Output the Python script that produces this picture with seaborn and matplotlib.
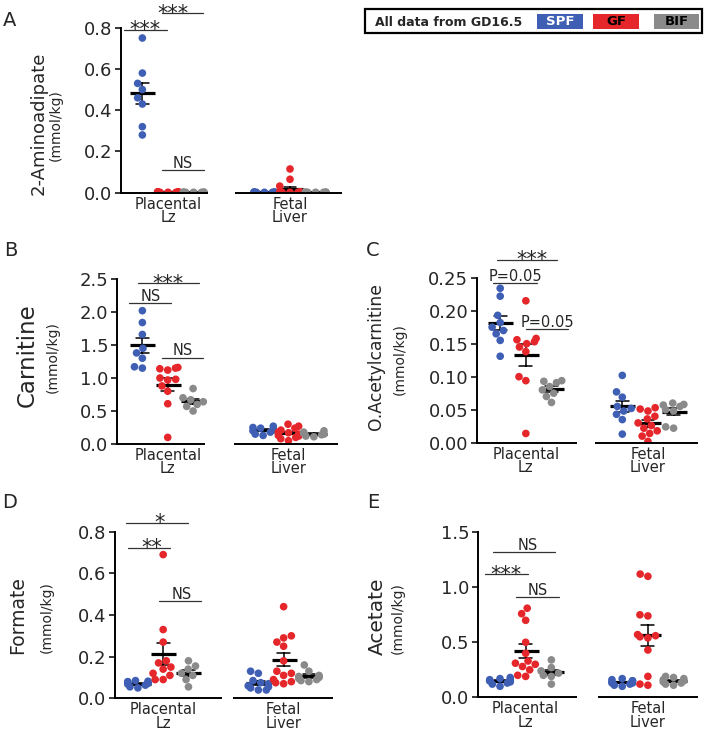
import warnings

import matplotlib
matplotlib.use("Agg")
import matplotlib.pyplot as plt
import numpy as np
import pandas as pd
import seaborn as sns
from matplotlib.patches import Rectangle
from matplotlib.ticker import FormatStrFormatter

warnings.filterwarnings("ignore")

tissues = ["Placental\nLz", "Fetal\nLiver"]
groups = ["SPF", "GF", "BIF"]
group_colors = {"SPF": "#3F5FB5", "GF": "#E5262B", "BIF": "#8A8A8A"}

# A - 2-Aminoadipate (mmol/kg)
aad_lz_spf = [0.75, 0.58, 0.53, 0.50, 0.46, 0.43, 0.32, 0.28]
aad_lz_gf = [0.004, 0.003, 0.003, 0.002, 0.004, 0.003, 0.002, 0.003, 0.004, 0.002, 0.003]
aad_lz_bif = [0.002, 0.003, 0.002, 0.002, 0.003, 0.002, 0.002]
aad_fl_spf = [0.002, 0.003, 0.002, 0.003, 0.002, 0.002, 0.003, 0.002, 0.002]
aad_fl_gf = [0.115, 0.065, 0.032, 0.004, 0.003, 0.002, 0.003, 0.002, 0.002, 0.003, 0.002, 0.002]
aad_fl_bif = [0.002, 0.003, 0.002, 0.002, 0.003, 0.002, 0.002]

# B - Carnitine
car_lz_spf = [2.02, 1.84, 1.66, 1.45, 1.38, 1.30, 1.17, 1.15]
car_lz_gf = [1.16, 1.15, 1.14, 1.12, 0.98, 1.00, 0.97, 0.88, 0.80, 0.61, 0.10]
car_lz_bif = [0.84, 0.70, 0.67, 0.64, 0.60, 0.57, 0.50]
car_fl_spf = [0.27, 0.25, 0.24, 0.22, 0.21, 0.20, 0.18, 0.15, 0.13]
car_fl_gf = [0.30, 0.27, 0.24, 0.21, 0.18, 0.17, 0.15, 0.13, 0.12, 0.10, 0.08, 0.05]
car_fl_bif = [0.20, 0.18, 0.16, 0.15, 0.14, 0.12, 0.11]

# C - O.Acetylcarnitine
oac_lz_spf = [0.234, 0.222, 0.193, 0.182, 0.175, 0.170, 0.165, 0.155, 0.131]
oac_lz_gf = [0.215, 0.158, 0.156, 0.153, 0.150, 0.145, 0.138, 0.100, 0.094, 0.014]
oac_lz_bif = [0.094, 0.093, 0.091, 0.085, 0.080, 0.075, 0.070, 0.061]
oac_fl_spf = [0.102, 0.077, 0.069, 0.055, 0.052, 0.048, 0.043, 0.035, 0.013]
oac_fl_gf = [0.053, 0.051, 0.048, 0.040, 0.036, 0.030, 0.026, 0.022, 0.018, 0.014, 0.010, 0.002]
oac_fl_bif = [0.060, 0.058, 0.057, 0.055, 0.050, 0.048, 0.024, 0.022]

# D - Formate
for_lz_spf = [0.085, 0.082, 0.080, 0.078, 0.075, 0.072, 0.068, 0.063, 0.055, 0.050]
for_lz_gf = [0.69, 0.33, 0.27, 0.18, 0.17, 0.15, 0.14, 0.12, 0.11, 0.09, 0.09]
for_lz_bif = [0.18, 0.155, 0.14, 0.12, 0.11, 0.09, 0.055]
for_fl_spf = [0.13, 0.12, 0.085, 0.075, 0.07, 0.06, 0.055, 0.05, 0.04, 0.04]
for_fl_gf = [0.44, 0.30, 0.29, 0.27, 0.25, 0.18, 0.13, 0.12, 0.11, 0.09, 0.08, 0.075, 0.07]
for_fl_bif = [0.16, 0.13, 0.11, 0.105, 0.10, 0.095, 0.09, 0.085, 0.08]

# E - Acetate
ace_lz_spf = [0.18, 0.17, 0.16, 0.16, 0.15, 0.15, 0.14, 0.13, 0.12, 0.10]
ace_lz_gf = [0.81, 0.76, 0.70, 0.50, 0.40, 0.33, 0.31, 0.30, 0.28, 0.25, 0.20, 0.19]
ace_lz_bif = [0.34, 0.27, 0.24, 0.22, 0.20, 0.19, 0.12]
ace_fl_spf = [0.17, 0.16, 0.15, 0.15, 0.14, 0.13, 0.13, 0.12, 0.11, 0.10]
ace_fl_gf = [1.12, 1.10, 0.75, 0.74, 0.57, 0.56, 0.55, 0.54, 0.43, 0.19, 0.12, 0.11]
ace_fl_bif = [0.19, 0.18, 0.17, 0.16, 0.15, 0.14, 0.13, 0.12, 0.11]

# layout: tissue centres and group offsets on the x axis
tissue_pos = [0, 1]
group_shift = [-0.21, 0.0, 0.21]

W, H = 708, 732

sns.set_theme(style="ticks")
plt.rcParams["font.family"] = ["DejaVu Sans"]
plt.rcParams["axes.linewidth"] = 1.4


def build_frame(*series):
    rows = []
    k = 0
    for ti in range(len(tissues)):
        for gi, group in enumerate(groups):
            for v in series[k]:
                rows.append({"pos": tissue_pos[ti] + group_shift[gi], "group": group, "value": v})
            k += 1
    return pd.DataFrame(rows)


def px(x, y):
    return x / W, 1 - y / H


def fig_rect(left, right, top, bottom):
    return [left / W, 1 - bottom / H, (right - left) / W, (bottom - top) / H]


fig = plt.figure(figsize=(W / 100, H / 100), dpi=100)


def panel(rect, df, ylim, ystep, fmt, xlim, gap, letter, letter_xy,
          ylabel, ylabel_x, ylabel_size, unit_x, label_y, sig):
    ax = fig.add_axes(fig_rect(*rect))
    sns.swarmplot(data=df, x="pos", y="value", hue="group", hue_order=groups,
                  palette=group_colors, native_scale=True, size=5.5, linewidth=0,
                  legend=False, ax=ax)
    sns.pointplot(data=df, x="pos", y="value", hue="group", hue_order=groups,
                  palette={g: "black" for g in groups}, native_scale=True,
                  errorbar="se", capsize=0.5, markers="_", linestyles="none",
                  markersize=18, markeredgewidth=2.3, err_kws={"linewidth": 1.1},
                  legend=False, ax=ax)
    ax.set_xlim(*xlim)
    ax.set_ylim(*ylim)
    ax.set_yticks(np.arange(ylim[0], ylim[1] + ystep / 2, ystep))
    ax.yaxis.set_major_formatter(FormatStrFormatter(fmt))
    ax.set_xticks(tissue_pos, tissues)
    for lbl in ax.get_xticklabels():
        lbl.set_linespacing(0.85)
    ax.set_xlabel("")
    ax.set_ylabel("")
    ax.tick_params(axis="y", length=4.3, width=1.1, pad=2, labelsize=13, color="black")
    ax.tick_params(axis="x", length=0, pad=3, labelsize=10.5)
    sns.despine(ax=ax)
    ax.spines["bottom"].set_visible(False)
    ax.spines["left"].set_color("black")
    # broken x axis, one segment per tissue
    ax.plot([xlim[0], gap[0]], [ylim[0], ylim[0]], color="black", lw=1.4,
            clip_on=False, solid_capstyle="butt", zorder=5)
    ax.plot([gap[1], xlim[1]], [ylim[0], ylim[0]], color="black", lw=1.4,
            clip_on=False, solid_capstyle="butt", zorder=5)
    # significance bars
    for x1, x2, y, txt, tx in sig:
        ax.plot([x1, x2], [y, y], color="#333333", lw=0.9, clip_on=False)
        star = txt.startswith("*")
        ax.annotate(txt, (tx, y), xytext=(0, -4.5 if star else 1.5),
                    textcoords="offset points", ha="center", va="baseline",
                    fontsize=15 if star else 10.5, annotation_clip=False)
    fig.text(*px(*letter_xy), letter, fontsize=14, ha="center", va="center")
    fig.text(*px(ylabel_x, label_y), ylabel, rotation=90, fontsize=ylabel_size,
             ha="center", va="center")
    fig.text(*px(unit_x, label_y + 2), "(mmol/kg)", rotation=90, fontsize=10,
             ha="center", va="center")
    return ax


panel((121, 342, 27.7, 192.7),
      build_frame(aad_lz_spf, aad_lz_gf, aad_lz_bif, aad_fl_spf, aad_fl_gf, aad_fl_bif),
      (0, 0.8), 0.2, "%.1f", (-0.385, 1.426), (0.33, 0.55), "A", (10, 20),
      "2-Aminoadipate", 39, 13, 56, 123,
      [(-0.358, -0.011, 0.789, "***", -0.189),
       (-0.047, 0.289, 0.870, "***", 0.043),
       (-0.047, 0.295, 0.110, "NS", 0.123)])

panel((117, 338, 279, 444),
      build_frame(car_lz_spf, car_lz_gf, car_lz_bif, car_fl_spf, car_fl_gf, car_fl_bif),
      (0, 2.5), 0.5, "%.1f", (-0.42, 1.41), (0.31, 0.55), "B", (11, 251),
      "Carnitine", 27, 16.5, 53, 355,
      [(-0.245, 0.259, 2.435, "***", 0.0),
       (-0.32, 0.03, 2.13, "NS", -0.14),
       (-0.05, 0.29, 1.31, "NS", 0.127)])

panel((477, 698, 277.7, 442.7),
      build_frame(oac_lz_spf, oac_lz_gf, oac_lz_bif, oac_fl_spf, oac_fl_gf, oac_fl_bif),
      (0, 0.25), 0.05, "%.2f", (-0.40, 1.41), (0.42, 0.57), "C", (373, 250),
      "O.Acetylcarnitine", 376, 12.3, 400, 357,
      [(-0.24, 0.257, 0.2768, "***", 0.047),
       (-0.27, 0.088, 0.2415, "P=0.05", -0.085),
       (0.005, 0.348, 0.172, "P=0.05", 0.175)])

panel((115, 333, 531.7, 698.3),
      build_frame(for_lz_spf, for_lz_gf, for_lz_bif, for_fl_spf, for_fl_gf, for_fl_bif),
      (0, 0.8), 0.2, "%.1f", (-0.40, 1.41), (0.49, 0.58), "D", (10, 503),
      "Formate", 18, 13.5, 47, 615,
      [(-0.31, 0.207, 0.843, "*", -0.027),
       (-0.295, 0.055, 0.723, "**", -0.096),
       (-0.036, 0.318, 0.469, "NS", 0.152)])

panel((478, 698, 532.3, 697.3),
      build_frame(ace_lz_spf, ace_lz_gf, ace_lz_bif, ace_fl_spf, ace_fl_gf, ace_fl_bif),
      (0, 1.5), 0.5, "%.1f", (-0.39, 1.41), (0.42, 0.59), "E", (373, 502),
      "Acetate", 377, 14.5, 398, 616,
      [(-0.267, 0.237, 1.324, "NS", 0.014),
       (-0.335, 0.019, 1.118, "***", -0.158),
       (-0.076, 0.272, 0.915, "NS", 0.096)])

# legend box
x0, y0 = px(365, 33)
fig.add_artist(Rectangle((x0, y0), (702 - 365) / W, (33 - 9) / H, transform=fig.transFigure,
                         fill=False, edgecolor="black", lw=1.6))
fig.text(*px(375, 22), "All data from GD16.5", fontsize=9, fontweight="bold",
         ha="left", va="center")
legend_boxes = [(537, 583), (593, 639), (654, 699)]
legend_text_colors = ["white", "black", "black"]
for (lx0, lx1), g, tc in zip(legend_boxes, groups, legend_text_colors):
    bx, by = px(lx0, 29)
    fig.add_artist(Rectangle((bx, by), (lx1 - lx0) / W, 15 / H, transform=fig.transFigure,
                             facecolor=group_colors[g], edgecolor="none"))
    fig.text(*px((lx0 + lx1) / 2, 21.5), g, fontsize=9.5, fontweight="bold", color=tc,
             ha="center", va="center")

fig.savefig("out.png", dpi=100)
